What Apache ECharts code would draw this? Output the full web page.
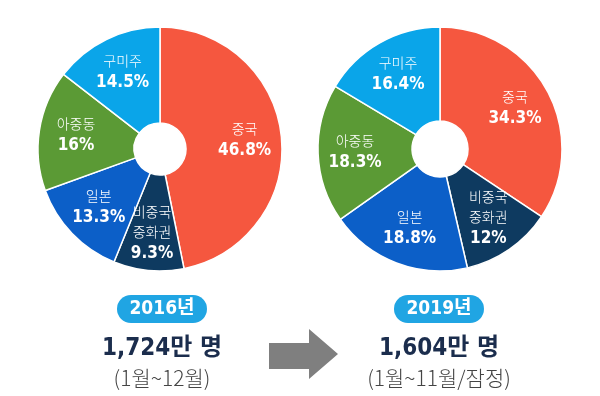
<!DOCTYPE html>
<html>
<head>
<meta charset="utf-8">
<script src="https://cdn.jsdelivr.net/npm/echarts@6/dist/echarts.min.js"></script>
<style>
  html, body { margin: 0; padding: 0; background: #fff; }
  #main { width: 600px; height: 396px; }
</style>
</head>
<body>
<div id="main"></div>
<script>
// 지역별 방한객 비중
var regions = ['중국', '비중국\n중화권', '일본', '아중동', '구미주'];
var share2016 = [46.8, 9.3, 13.3, 16, 14.5];
var share2019 = [34.3, 12, 18.8, 18.3, 16.4];
var colors = ['#f5573f', '#0e3a60', '#0c5fc8', '#5b9a35', '#0aa5e9'];
var years = ['2016년', '2019년'];
var totals = ['1,724만 명', '1,604만 명'];
var periods = ['(1월~12월)', '(1월~11월/잠정)'];

var NUM_FONT = "'DejaVu Sans Condensed', 'Noto Sans CJK KR', sans-serif";
var KR_FONT = "'Noto Sans CJK KR', sans-serif";

function makeData(vals) {
    var arr = [];
    for (var i = 0; i < vals.length; i++) {
        arr.push({ name: regions[i], value: vals[i], itemStyle: { color: colors[i] } });
    }
    return arr;
}

// 조각
function pieSeries(vals, cx, inner) {
    return {
        type: 'pie',
        center: [cx, 149],
        radius: [inner, 122],
        startAngle: 90,
        silent: true,
        animation: false,
        itemStyle: { borderColor: '#fff', borderWidth: 1.5 },
        label: { show: false },
        labelLine: { show: false },
        data: makeData(vals)
    };
}

// 라벨만 (바깥쪽으로 조금 더)
function labelSeries(vals, cx) {
    return {
        type: 'pie',
        center: [cx, 149],
        radius: [42, 122],
        startAngle: 90,
        silent: true,
        animation: false,
        itemStyle: { color: 'transparent', borderWidth: 0 },
        label: {
            position: 'inside',
            formatter: '{n|{b}}\n{v|{c}%}',
            rich: {
                n: { fontFamily: KR_FONT, fontWeight: 300, fontSize: 14, color: '#fff', lineHeight: 20 },
                v: { fontFamily: NUM_FONT, fontSize: 17, fontWeight: 'bold', color: '#fff', lineHeight: 24 }
            }
        },
        labelLine: { show: false },
        data: vals.map(function (v, i) { return { name: regions[i], value: v }; })
    };
}

function bottomBlock(cx, idx) {
    return [
        {
            type: 'rect',
            shape: { x: cx - 45, y: 295, width: 90, height: 28, r: 14 },
            style: { fill: '#20a5e3' }
        },
        {
            type: 'text', x: cx, y: 309,
            style: { text: years[idx], fill: '#fff', font: "bold 19px " + NUM_FONT, align: 'center', verticalAlign: 'middle' }
        },
        {
            type: 'text', x: cx, y: 349,
            style: { text: totals[idx], fill: '#1b2d4d', font: "bold 24px " + NUM_FONT, align: 'center', verticalAlign: 'middle' }
        },
        {
            type: 'text', x: cx, y: 378,
            style: { text: periods[idx], fill: '#444', font: "300 21px " + KR_FONT, align: 'center', verticalAlign: 'middle' }
        }
    ];
}

var chart = echarts.init(document.getElementById('main'));
var graphics = bottomBlock(162, 0).concat(bottomBlock(439, 1));
graphics.push({
    type: 'polygon',
    shape: { points: [[269, 343], [309, 343], [309, 329], [338, 354], [309, 379], [309, 369], [269, 369]] },
    style: { fill: '#7f7f7f' }
});

chart.setOption({
    backgroundColor: '#fff',
    series: [
        pieSeries(share2016, 160, 26), pieSeries(share2019, 440, 28),
        labelSeries(share2016, 160), labelSeries(share2019, 440)
    ],
    graphic: graphics
});
</script>
</body>
</html>
